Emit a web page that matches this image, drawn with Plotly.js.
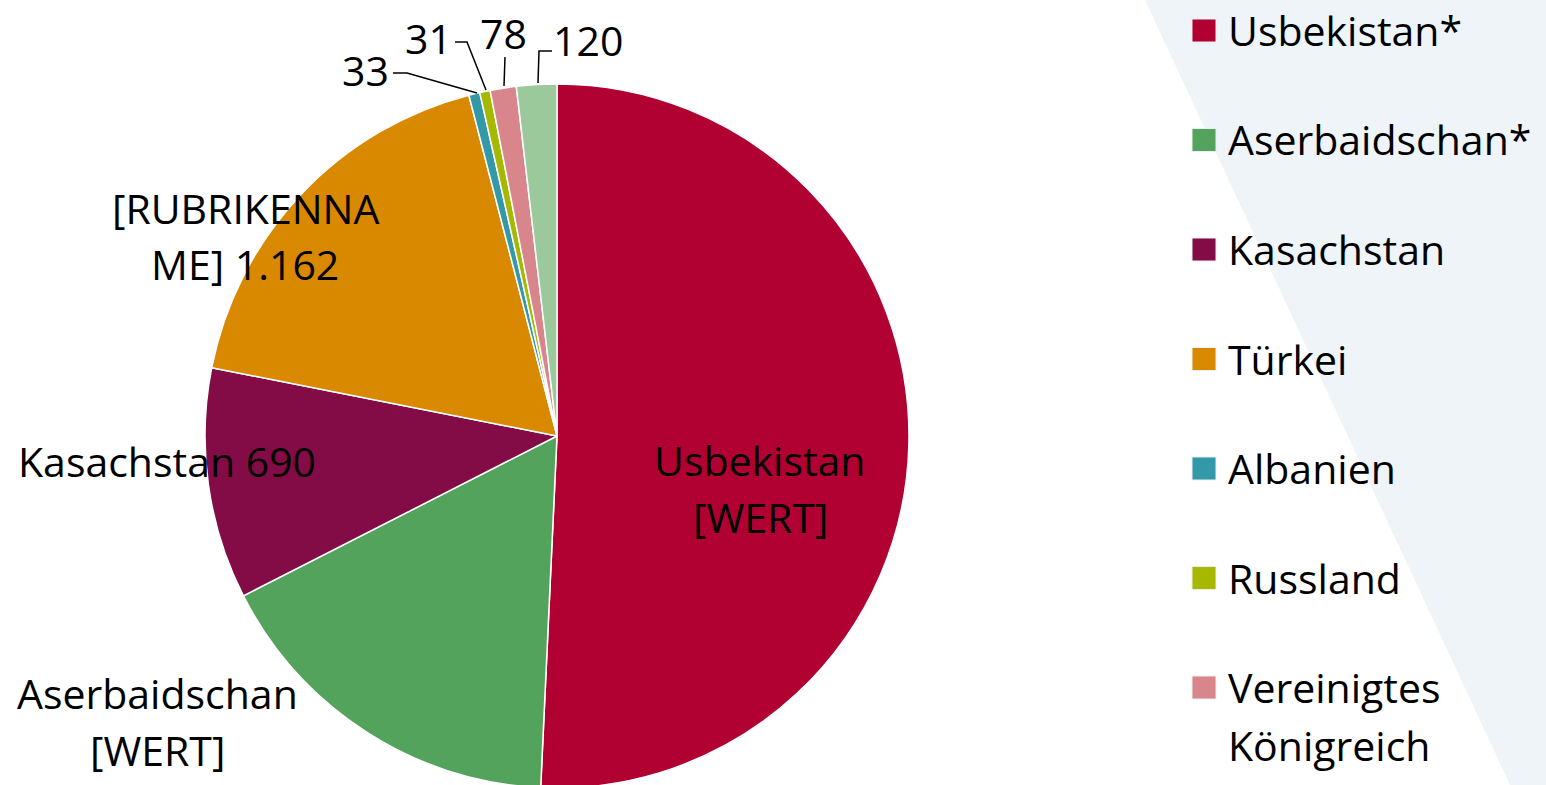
<!DOCTYPE html>
<html><head><meta charset="utf-8">
<script src="https://cdn.plot.ly/plotly-3.0.1.min.js"></script>
<style>html,body{margin:0;padding:0;overflow:hidden;background:#fff}#chart{width:1546px;height:800px}</style>
</head><body><div id="chart"></div>
<script>
// ---- data ----
const categories = ["Usbekistan*", "Aserbaidschan*", "Kasachstan", "Türkei", "Albanien", "Russland", "Vereinigtes Königreich", "Sonstige"];
const values = [3300, 1090, 690, 1162, 33, 31, 78, 120];
const colors = ["#b10032", "#54a35c", "#830c47", "#d98900", "#3399a8", "#a7b800", "#d8868c", "#9bc99b"];
const sliceLabels = ["Usbekistan\n[WERT]", "Aserbaidschan\n[WERT]", "Kasachstan 690", "[RUBRIKENNA\nME] 1.162", "33", "31", "78", "120"];
const legendLabels = ["Usbekistan*", "Aserbaidschan*", "Kasachstan", "Türkei", "Albanien", "Russland", "Vereinigtes\nKönigreich", "Sonstige"];

// ---- layout helpers (pixel -> paper) ----
const W = 1546, H = 800;
const px = (x) => x / W;
const py = (y) => (H - y) / H;
const FONT = "Open Sans";
const FS = 41;

// label placement (centre of each label block) and leader lines
const labelPos = [[760, 488], [157, 721], [167, 461], [245, 236], [365, 70], [428, 38], [503, 33], [588, 40]];
const leaders = [null, null, null, null,
  [[393, 73], [407, 73], [477, 93]],
  [[455, 42], [467, 42], [486, 90]],
  [[505, 57], [504, 86]],
  [[552, 51], [539, 51], [538, 83]]];

const annotations = [];
const shapes = [];
const LH = 57;

// background band
shapes.push({type: "path", xref: "paper", yref: "paper", layer: "below",
  path: `M ${px(1145)},${py(0)} L ${px(1546)},${py(0)} L ${px(1546)},${py(800)} L ${px(1517)},${py(800)} Z`,
  fillcolor: "#eef4f7", line: {width: 0}});

sliceLabels.forEach((t, i) => {
  const lines = t.split("\n");
  const [cx, cy] = labelPos[i];
  lines.forEach((ln, j) => {
    annotations.push({xref: "paper", yref: "paper", x: px(cx), y: py(cy + (j - (lines.length - 1) / 2) * LH),
      text: ln, showarrow: false, xanchor: "center", yanchor: "middle",
      font: {family: FONT, size: FS, color: "#000"}});
  });
  if (leaders[i]) {
    const p = leaders[i];
    const path = p.map((q, k) => (k ? "L " : "M ") + px(q[0]) + "," + py(q[1])).join(" ");
    shapes.push({type: "path", xref: "paper", yref: "paper", path: path, line: {color: "#000", width: 1.5}});
  }
});

// legend (drawn from the category arrays; entries below the visible area are skipped)
let ly = 30;
legendLabels.forEach((t, i) => {
  const lines = t.split("\n");
  if (ly > 770) return;
  shapes.push({type: "rect", xref: "paper", yref: "paper",
    x0: px(1192), x1: px(1216), y0: py(ly - 11), y1: py(ly + 12),
    fillcolor: colors[i], line: {color: "#e8eef2", width: 1}});
  lines.forEach((ln, j) => {
    annotations.push({xref: "paper", yref: "paper", x: px(1226), y: py(ly + j * 58),
      text: ln, showarrow: false, xanchor: "left", yanchor: "middle",
      font: {family: FONT, size: FS, color: "#000"}});
  });
  ly += 109.5 + (lines.length - 1) * 58;
});

const trace = {
  type: "pie", labels: categories, values: values, sort: false, direction: "clockwise", rotation: 0,
  marker: {colors: colors, line: {color: "#ffffff", width: 1.5}},
  textinfo: "none", hoverinfo: "label+value", showlegend: false,
  domain: {x: [px(205), px(909)], y: [py(788), py(84)]}
};

Plotly.newPlot("chart", [trace], {
  width: W, height: H, margin: {l: 0, r: 0, t: 0, b: 0},
  paper_bgcolor: "#fff", showlegend: false,
  font: {family: FONT},
  annotations: annotations, shapes: shapes
}, {displayModeBar: false, staticPlot: true});
</script></body></html>
